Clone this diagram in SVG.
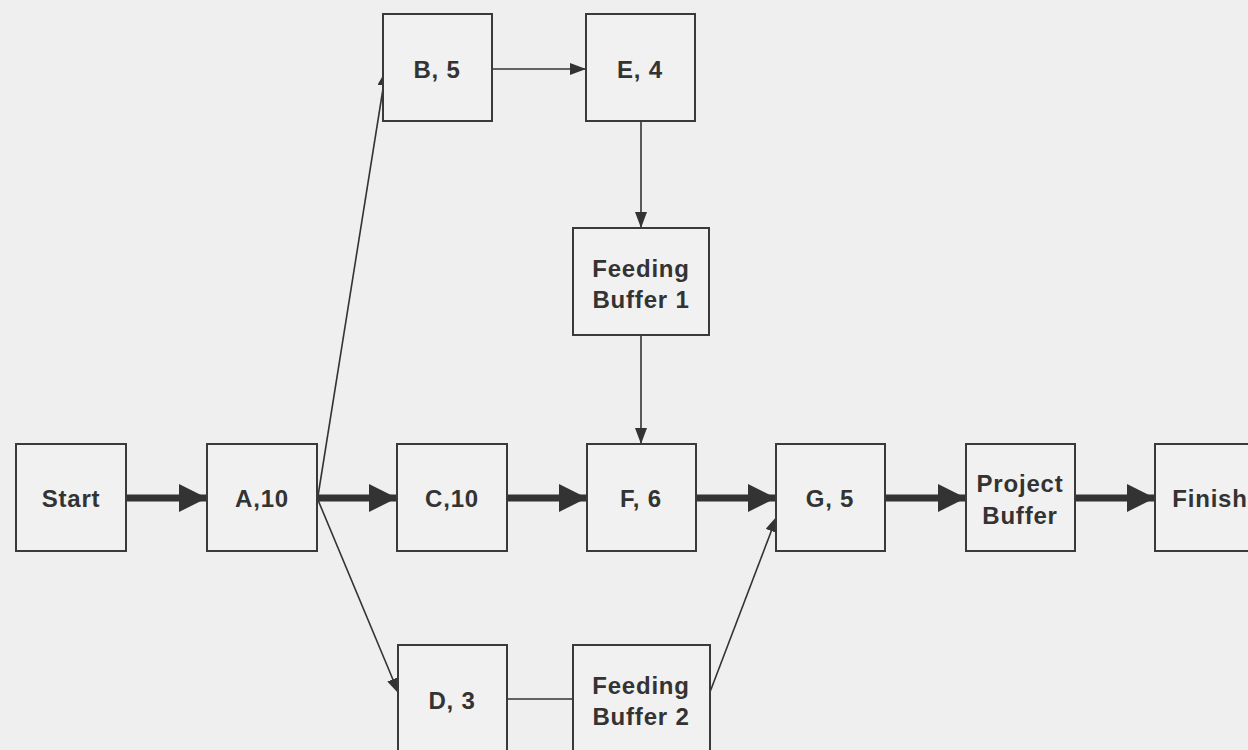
<svg xmlns="http://www.w3.org/2000/svg" width="1248" height="750" viewBox="0 0 1248 750">
<style>
.box{fill:#f1f1f1;stroke:#3a3a3a;stroke-width:2}
.t{font-family:"Liberation Sans",Arial,sans-serif;font-weight:bold;font-size:24px;letter-spacing:0.8px;fill:#333;text-anchor:middle}
.thick{stroke:#333;stroke-width:7;fill:none}
.thin{stroke:#333;stroke-width:1.6;fill:none}
</style>
<defs>
<marker id="big" markerUnits="userSpaceOnUse" markerWidth="30" markerHeight="30" refX="28" refY="15" orient="auto" viewBox="0 0 30 30">
<path d="M0,1 L28,15 L0,29 Z" fill="#333"/>
</marker>
<marker id="sm" markerUnits="userSpaceOnUse" markerWidth="16" markerHeight="12" refX="16" refY="6" orient="auto" viewBox="0 0 16 12">
<path d="M0,0 L16,6 L0,12 Z" fill="#333"/>
</marker>
</defs>
<rect width="1248" height="750" fill="#efefef"/>
<g id="connectors">
<line class="thick" x1="126" y1="498" x2="207" y2="498" marker-end="url(#big)"/>
<line class="thick" x1="317" y1="498" x2="397" y2="498" marker-end="url(#big)"/>
<line class="thick" x1="507" y1="498" x2="587" y2="498" marker-end="url(#big)"/>
<line class="thick" x1="696" y1="498" x2="776" y2="498" marker-end="url(#big)"/>
<line class="thick" x1="885" y1="498" x2="966" y2="498" marker-end="url(#big)"/>
<line class="thick" x1="1075" y1="498" x2="1155" y2="498" marker-end="url(#big)"/>
<line class="thin" x1="318" y1="496" x2="386" y2="70" marker-end="url(#sm)"/>
<line class="thin" x1="318" y1="500" x2="399" y2="694" marker-end="url(#sm)"/>
<line class="thin" x1="492" y1="69" x2="586" y2="69" marker-end="url(#sm)"/>
<line class="thin" x1="641" y1="121" x2="641" y2="228" marker-end="url(#sm)"/>
<line class="thin" x1="641" y1="335" x2="641" y2="444" marker-end="url(#sm)"/>
<line class="thin" x1="507" y1="699" x2="573" y2="699"/>
<line class="thin" x1="710" y1="692" x2="777" y2="516" marker-end="url(#sm)"/>
</g>
<g id="start"><rect class="box" x="16" y="444" width="110" height="107"/><text class="t" x="71" y="507">Start</text></g>
<g id="a"><rect class="box" x="207" y="444" width="110" height="107"/><text class="t" x="262" y="507">A,10</text></g>
<g id="c"><rect class="box" x="397" y="444" width="110" height="107"/><text class="t" x="452" y="507">C,10</text></g>
<g id="f"><rect class="box" x="587" y="444" width="109" height="107"/><text class="t" x="641" y="507">F, 6</text></g>
<g id="g"><rect class="box" x="776" y="444" width="109" height="107"/><text class="t" x="830" y="507">G, 5</text></g>
<g id="pb"><rect class="box" x="966" y="444" width="109" height="107"/><text class="t" x="1020" y="492">Project</text><text class="t" x="1020" y="524">Buffer</text></g>
<g id="finish"><rect class="box" x="1155" y="444" width="110" height="107"/><text class="t" x="1210" y="507">Finish</text></g>
<g id="b"><rect class="box" x="383" y="14" width="109" height="107"/><text class="t" x="437" y="78">B, 5</text></g>
<g id="e"><rect class="box" x="586" y="14" width="109" height="107"/><text class="t" x="640" y="78">E, 4</text></g>
<g id="fb1"><rect class="box" x="573" y="228" width="136" height="107"/><text class="t" x="641" y="277">Feeding</text><text class="t" x="641" y="308">Buffer 1</text></g>
<g id="d"><rect class="box" x="398" y="645" width="109" height="110"/><text class="t" x="452" y="709">D, 3</text></g>
<g id="fb2"><rect class="box" x="573" y="645" width="137" height="110"/><text class="t" x="641" y="694">Feeding</text><text class="t" x="641" y="725">Buffer 2</text></g>
</svg>
